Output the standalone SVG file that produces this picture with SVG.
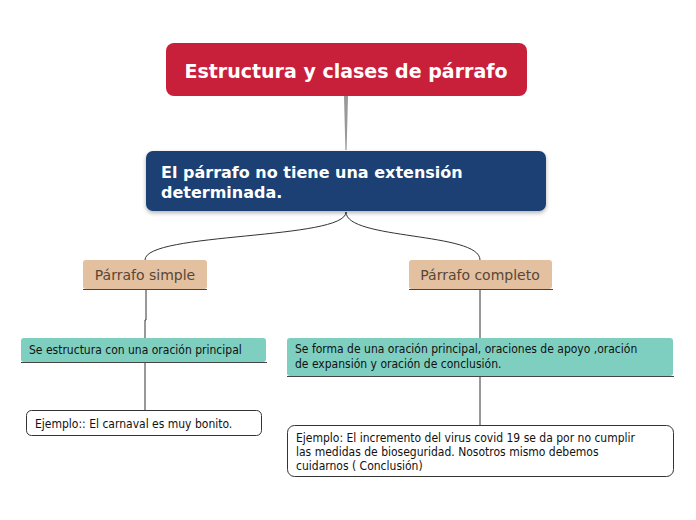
<svg xmlns="http://www.w3.org/2000/svg" width="696" height="520" viewBox="0 0 696 520">
<defs><style>
.h{font-family:"DejaVu Sans",Verdana,sans-serif;font-weight:bold;fill:#fff}
.t{font-family:"DejaVu Sans Condensed","DejaVu Sans",sans-serif;font-size:12px;fill:#111}
.b{font-family:"DejaVu Sans",sans-serif;font-size:14px;fill:#5a4636}
.c{fill:none;stroke:#333;stroke-width:1}
.u{stroke:#444;stroke-width:1.2}
</style>
<filter id="sh" x="-5%" y="-10%" width="110%" height="130%"><feDropShadow dx="0" dy="2" stdDeviation="2" flood-opacity="0.3"/></filter></defs>
<g id="connectors">
<path d="M344,96 L348,96 L346.6,150 L345.4,150 Z" fill="#999"/>
<path class="c" d="M346,212 C346,240 145,232 145,260"/>
<path class="c" d="M346,212 C346,240 480,232 480,260"/>
<path class="c" d="M146,290 V320 H145 V338"/>
<path class="c" d="M480,290 V338"/>
<path class="c" d="M145,363 V410"/>
<path class="c" d="M480,377 V425"/>
</g>
<g id="title"><rect x="166" y="43" width="361" height="53" rx="8" fill="#c8203a"/>
<text class="h" x="346" y="78" font-size="19" text-anchor="middle">Estructura y clases de párrafo</text></g>
<g id="main"><rect x="146" y="151" width="400" height="60" rx="7" fill="#1b3f73" filter="url(#sh)"/>
<text class="h" font-size="16"><tspan x="161" y="178">El párrafo no tiene una extensión</tspan><tspan x="161" y="198">determinada.</tspan></text></g>
<g id="simple"><rect x="83" y="260" width="124" height="29" rx="3" fill="#e2c0a0"/><line class="u" x1="83" y1="289.5" x2="207" y2="289.5"/>
<text class="b" x="145" y="280" text-anchor="middle">Párrafo simple</text></g>
<g id="completo"><rect x="409" y="260" width="143" height="29" rx="3" fill="#e2c0a0"/><line class="u" x1="409" y1="289.5" x2="553" y2="289.5"/>
<text class="b" x="480" y="280" text-anchor="middle">Párrafo completo</text></g>
<g id="oracion1"><rect x="21" y="338" width="245" height="24" rx="3" fill="#7ecfc0"/><line class="u" x1="21" y1="362.5" x2="267" y2="362.5"/>
<text class="t" x="29" y="354">Se estructura con una oración principal</text></g>
<g id="oracion2"><rect x="287" y="338" width="386" height="38" rx="3" fill="#7ecfc0"/><line class="u" x1="287" y1="376.5" x2="674" y2="376.5"/>
<text class="t"><tspan x="295" y="353">Se forma de una oración principal, oraciones de apoyo ,oración</tspan><tspan x="295" y="368">de expansión y oración de conclusión.</tspan></text></g>
<g id="ejemplo1"><rect x="26.5" y="410.5" width="235" height="25" rx="5" fill="#fff" stroke="#333"/>
<text class="t" x="35" y="428">Ejemplo:: El carnaval es muy bonito.</text></g>
<g id="ejemplo2"><rect x="287.5" y="425.5" width="386" height="51" rx="7" fill="#fff" stroke="#333"/>
<text class="t"><tspan x="296" y="442">Ejemplo: El incremento del virus covid 19 se da por no cumplir</tspan><tspan x="296" y="456">las medidas de bioseguridad. Nosotros mismo debemos</tspan><tspan x="296" y="470">cuidarnos ( Conclusión)</tspan></text></g>
</svg>
